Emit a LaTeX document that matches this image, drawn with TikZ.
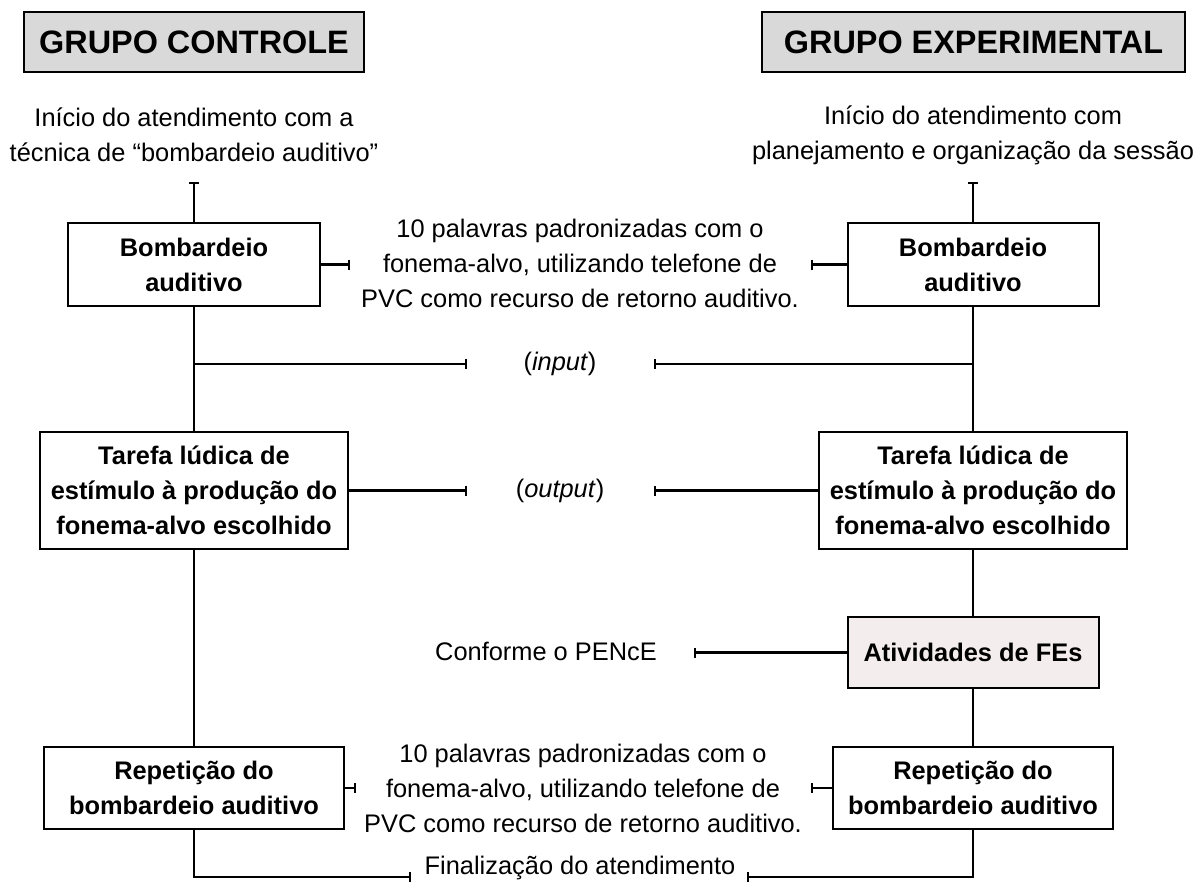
\documentclass[tikz,border=0pt]{standalone}
\usepackage{fontspec}
\setmainfont{Liberation Sans}
\usepackage{tikz}
\usetikzlibrary{arrows.meta}
\usepackage{xcolor}
\definecolor{hdrgray}{HTML}{D9D9D9}
\definecolor{fepink}{HTML}{F3EDED}
\newcommand{\bodyfont}{\fontsize{12.7pt}{17.5pt}\selectfont}
\newcommand{\hdrfont}{\fontsize{16.2pt}{18pt}\selectfont\bfseries}

\begin{document}
\begin{tikzpicture}[x=0.5pt,y=-0.5pt,line width=1.1pt,
	every node/.style={font=\bodyfont,align=center},
	box/.style={rectangle,draw,font=\bodyfont\bfseries,inner sep=0pt,line width=1pt},
	hdr/.style={rectangle,draw,fill=hdrgray,font=\hdrfont,minimum height=30pt,inner sep=0pt,line width=1pt},
	teeStart/.style={{Bar[width=5pt]}-},
	teeEnd/.style={-{Bar[width=5pt]}}]
				\useasboundingbox (0,0) rectangle (1197,884);
				\node (hdrL) [hdr,minimum width=170pt] at (194,42) {GRUPO CONTROLE};
				\node (hdrR) [hdr,minimum width=211.5pt] at (973.5,42) {GRUPO EXPERIMENTAL};
				\node (iniL) at (194,135) {Início do atendimento com a\\técnica de “bombardeio auditivo”};
				\node (iniR) at (973,135) {Início do atendimento com\\planejamento e organização da sessão};
				\coordinate (iniLend) at (194,182);
				\coordinate (iniRend) at (973,182);
				\node (bombL) [box,minimum width=126pt,minimum height=41.5pt] at (194,264.5) {Bombardeio\\auditivo};
				\node (bombR) [box,minimum width=125.5pt,minimum height=41.5pt] at (973,264.5) {Bombardeio\\auditivo};
				\node (palTop) at (580,263) {10 palavras padronizadas com o\\fonema-alvo, utilizando telefone de\\PVC como recurso de retorno auditivo.};
				\coordinate (palTopL) at (350,264.5);
				\coordinate (palTopR) at (811,264.5);
				\node (inp) at (560,364) {(\textit{input})};
				\coordinate (inpL) at (467,364);
				\coordinate (inpR) at (654,364);
				\node (tarL) [box,minimum width=154pt,minimum height=58.5pt] at (194,490.5) {Tarefa lúdica de\\estímulo à produção do\\fonema-alvo escolhido};
				\node (tarR) [box,minimum width=154pt,minimum height=58.5pt] at (973,490.5) {Tarefa lúdica de\\estímulo à produção do\\fonema-alvo escolhido};
				\node (outp) at (560,491) {(\textit{output})};
				\coordinate (outpL) at (467,490.5);
				\coordinate (outpR) at (654,490.5);
				\node (ativ) [box,fill=fepink,minimum width=125.5pt,minimum height=35.5pt] at (973,652.5) {Atividades de FEs};
				\node (pence) at (546,651) {Conforme o PENcE};
				\coordinate (penceR) at (694,652.5);
				\node (repL) [box,minimum width=150pt,minimum height=41pt] at (194,788) {Repetição do\\bombardeio auditivo};
				\node (repR) [box,minimum width=140pt,minimum height=41pt] at (973,788) {Repetição do\\bombardeio auditivo};
				\node (palBot) at (583,788) {10 palavras padronizadas com o\\fonema-alvo, utilizando telefone de\\PVC como recurso de retorno auditivo.};
				\coordinate (palBotL) at (356,788);
				\coordinate (palBotR) at (811,788);
				\node (fim) at (580,868) {Finalização do atendimento};
				\coordinate (fimL) at (411,877);
				\coordinate (fimR) at (747,877);
				\draw [teeStart](iniLend) -- (bombL);
				\draw [teeStart](iniRend) -- (bombR);
				\draw [teeEnd](bombL) -- (palTopL);
				\draw [teeEnd](bombR) -- (palTopR);
				\draw (bombL) -- (tarL);
				\draw (bombR) -- (tarR);
				\draw [teeEnd](bombL.south |- inpL) -- (inpL);
				\draw [teeEnd](bombR.south |- inpR) -- (inpR);
				\draw [teeEnd](tarL) -- (outpL);
				\draw [teeEnd](tarR) -- (outpR);
				\draw (tarL) -- (repL);
				\draw (tarR) -- (ativ);
				\draw (ativ) -- (repR);
				\draw [teeEnd](ativ) -- (penceR);
				\draw [teeEnd](repL) -- (palBotL);
				\draw [teeEnd](repR) -- (palBotR);
				\draw [teeEnd](repL.south) |- (fimL);
				\draw [teeEnd](repR.south) |- (fimR);
			\end{tikzpicture}
\end{document}
